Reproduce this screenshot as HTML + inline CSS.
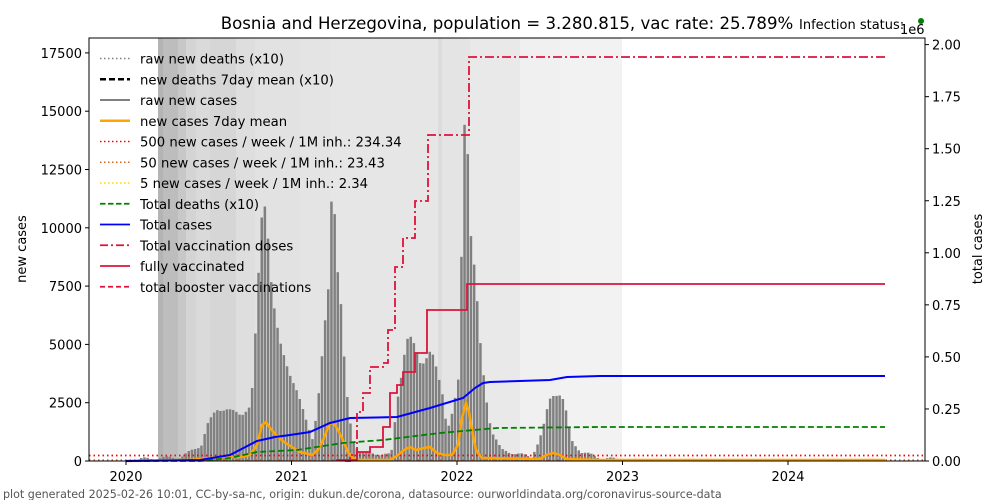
<!DOCTYPE html><html><head><meta charset="utf-8"><style>body{margin:0;background:#fff}svg{display:block;font-family:"DejaVu Sans","Liberation Sans",sans-serif}</style></head><body>
<svg id="s" width="1000" height="500" xmlns="http://www.w3.org/2000/svg">
<g id="bg"></g>
<g id="bars"></g>
<g id="lines"></g>
<rect x="89" y="38" width="836" height="423" fill="none" stroke="#000" stroke-width="1"/>
<g id="leg"></g>
<g id="ax" font-size="13" fill="#000"></g>
<text x="507" y="29" font-size="16.6" text-anchor="middle">Bosnia and Herzegovina, population = 3.280.815, vac rate: 25.789%</text>
<text x="799" y="29" font-size="13">Infection status:</text>
<circle cx="921" cy="21" r="3" fill="green"/>
<text x="900" y="34" font-size="13">1e6</text>
<text x="3" y="498" font-size="11.1" fill="#555">plot generated 2025-02-26 10:01, CC-by-sa-nc, origin: dukun.de/corona, datasource: ourworldindata.org/coronavirus-source-data</text>
<text transform="translate(26,249) rotate(-90)" font-size="13" text-anchor="middle">new cases</text>
<text transform="translate(982,249) rotate(-90)" font-size="13" text-anchor="middle">total cases</text>
</svg>
<script>
const NS="http://www.w3.org/2000/svg";
function el(p,t,a){const e=document.createElementNS(NS,t);for(const k in a)e.setAttribute(k,a[k]);document.getElementById(p).appendChild(e);return e;}
const bands=[[158,163,"#b4b4b4"],[163,178,"#bdbdbd"],[178,186,"#c8c8c8"],[186,196,"#d4d4d4"],[196,210,"#dadada"],[210,236,"#d6d6d6"],[236,255,"#dedede"],[255,300,"#e2e2e2"],[300,330,"#e4e4e4"],[330,438,"#e6e6e6"],[438,442,"#dcdcdc"],[442,470,"#e4e4e4"],[470,520,"#e9e9e9"],[520,560,"#f0f0f0"],[560,622,"#f2f2f2"]];
bands.forEach(b=>el("bg","rect",{x:b[0],y:38,width:b[1]-b[0],height:423,fill:b[2]}));
function interp(pts,x){if(x<=pts[0][0])return pts[0][1];for(let i=1;i<pts.length;i++){if(x<=pts[i][0]){const a=pts[i-1],b=pts[i];return a[1]+(b[1]-a[1])*(x-a[0])/(b[0]-a[0]);}}return pts[pts.length-1][1];}
const bp=[[140,459],[180,457],[200,445],[206,425],[215,410],[226,409],[240,415],[250,405],[255,320],[260,219],[265,200],[268,262],[272,302],[278,340],[288,372],[295,390],[305,420],[312,440],[318,390],[323,330],[327,290],[330,200],[333,205],[336,267],[339,293],[343,360],[347,410],[352,440],[358,452],[390,455],[396,400],[401,370],[405,340],[410,338],[415,350],[420,365],[425,358],[430,350],[436,372],[441,392],[446,430],[452,410],[458,375],[460,265],[463,122],[466,137],[469,229],[474,276],[480,355],[485,398],[490,430],[500,450],[530,457],[538,440],[542,428],[548,400],[552,395],[558,394],[562,400],[566,417],[570,440],[580,452],[600,458],[625,460]];
for(let x=140;x<625;x+=3.17){const y=interp(bp,x)+(Math.sin(x*1.7)*1.5);const yy=Math.min(460,y);el("bars","rect",{x:x.toFixed(1),y:yy.toFixed(1),width:2.5,height:(461-yy).toFixed(1),fill:"#808080"});}
function path(pts,a){let d="M"+pts.map(p=>p[0]+","+p[1]).join(" L");a.d=d;a.fill="none";return el("lines","path",a);}
path([[89,455.5],[925,455.5]],{stroke:"red","stroke-width":1.8,"stroke-dasharray":"1.5,3"});
path([[89,460],[925,460]],{stroke:"#d2691e","stroke-width":1.5,"stroke-dasharray":"1.5,3"});
path([[126,461],[190,460],[200,459],[210,458],[225,457],[240,457],[250,455],[257,445],[262,425],[266,422],[270,428],[276,435],[284,442],[292,447],[300,452],[312,455],[318,450],[324,438],[329,425],[333,422],[337,428],[342,438],[348,452],[355,460],[390,460],[398,455],[404,450],[410,447],[416,450],[424,448],[430,447],[437,453],[444,455],[452,455],[458,445],[462,418],[466,403],[469,412],[472,430],[476,450],[482,458],[540,459],[546,455],[553,453],[560,455],[566,459],[600,460],[885,460]],{stroke:"orange","stroke-width":2.5});
path([[126,461],[200,461],[230,458],[257,452],[297,450],[343,443],[383,440],[440,433],[497,428],[600,427],[885,427]],{stroke:"green","stroke-width":1.8,"stroke-dasharray":"6,3"});
path([[126,461],[200,460],[230,455],[257,441],[275,437],[290,435],[310,432],[330,423],[350,418],[397,417],[430,408],[463,398],[475,388],[483,383],[490,382],[550,380],[567,377],[600,376],[885,376]],{stroke:"blue","stroke-width":2});
path([[345,461],[350,461],[350,455],[357,455],[357,412],[363,412],[363,393],[370,393],[370,367],[383,367],[383,363],[388,363],[388,330],[395,330],[395,267],[403,267],[403,238],[415,238],[415,201],[428,201],[428,135],[469,135],[469,57],[885,57]],{stroke:"crimson","stroke-width":1.8,"stroke-dasharray":"9,3,2,3"});
path([[337,461],[337,460],[357,460],[357,452],[370,452],[370,447],[383,447],[383,427],[390,427],[390,393],[397,393],[397,385],[403,385],[403,372],[415,372],[415,353],[427,353],[427,310],[467,310],[467,284],[885,284]],{stroke:"crimson","stroke-width":1.8});
const L=[["raw new deaths (x10)","gray","1.5,2.5",1.5],["new deaths 7day mean (x10)","#000","6,3",2.5],["raw new cases","gray","",2],["new cases 7day mean","orange","",2.5],["500 new cases / week / 1M inh.: 234.34","red","1.5,2.5",1.5],["50 new cases / week / 1M inh.: 23.43","#d2691e","1.5,2.5",1.5],["5 new cases / week / 1M inh.: 2.34","gold","1.5,2.5",1.5],["Total deaths (x10)","green","5.5,2.5",1.8],["Total cases","blue","",1.8],["Total vaccination doses","crimson","8,3,2,3",1.8],["fully vaccinated","crimson","",1.8],["total booster vaccinations","crimson","5,3",1.8]];
L.forEach((l,i)=>{const y=58.5+i*20.75;const a={x1:100,x2:130,y1:y,y2:y,stroke:l[1],"stroke-width":l[3]};if(l[2])a["stroke-dasharray"]=l[2];el("leg","line",a);const t=el("leg","text",{x:140,y:y+5,"font-size":13.2});t.textContent=l[0];});
for(let i=0;i<=7;i++){const v=i*2500,y=461-i*58.3;el("ax","line",{x1:85,x2:89,y1:y,y2:y,stroke:"#000"});const t=el("ax","text",{x:82,y:y+5,"text-anchor":"end"});t.textContent=v;}
for(let i=0;i<=8;i++){const y=461-i*52.05;el("ax","line",{x1:925,x2:929,y1:y,y2:y,stroke:"#000"});const t=el("ax","text",{x:932,y:y+5});t.textContent=(i*0.25).toFixed(2);}
[2020,2021,2022,2023,2024].forEach((yr,i)=>{const x=126+i*165.5;el("ax","line",{x1:x,x2:x,y1:461,y2:465,stroke:"#000"});const t=el("ax","text",{x:x,y:481,"text-anchor":"middle"});t.textContent=yr;});
</script>
</body></html>
